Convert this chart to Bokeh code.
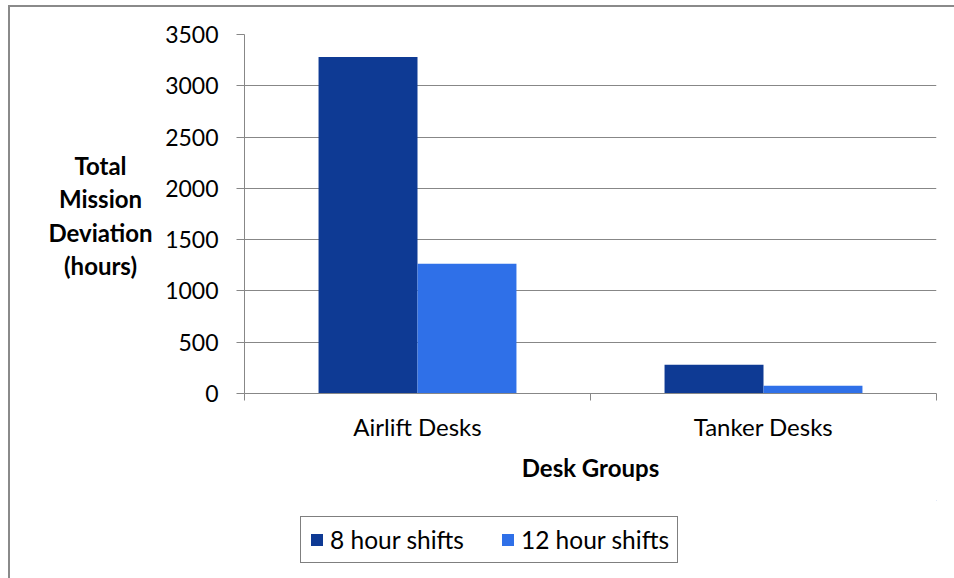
import numpy as np
from bokeh.plotting import figure
from bokeh.layouts import column
from bokeh.models import FixedTicker, Legend, LegendItem, Range1d, ColumnDataSource, Label
from bokeh.embed import file_html
from bokeh.resources import INLINE

categories = ["Airlift Desks", "Tanker Desks"]
series_names = ["8 hour shifts", "12 hour shifts"]
shift8 = [3280, 280]
shift12 = [1265, 75]
y_ticks = [0, 500, 1000, 1500, 2000, 2500, 3000, 3500]
y_title = "Total\nMission\nDeviation\n(hours)"
x_title = "Desk Groups"

colors = ["#0E3A94", "#2F70E8"]
FONT = "Lato"
GRID = "#878787"

p = figure(width=944, height=493, output_backend="svg", toolbar_location=None,
           x_range=Range1d(0, len(categories)), y_range=Range1d(0, 3500),
           min_border_left=234, min_border_right=18, min_border_top=27,
           min_border_bottom=107)
p.outline_line_color = None
p.background_fill_color = "white"
p.border_fill_color = "white"

centers = np.arange(len(categories)) + 0.5
bw = 0.286
src8 = ColumnDataSource(dict(x=centers - bw / 2, top=shift8))
src12 = ColumnDataSource(dict(x=centers + bw / 2, top=shift12))
p.vbar(x="x", top="top", bottom=0, width=bw, source=src8, fill_color=colors[0], line_color=None)
p.vbar(x="x", top="top", bottom=0, width=bw, source=src12, fill_color=colors[1], line_color=None)

# x axis
xa = p.xaxis[0]
xa.ticker = FixedTicker(ticks=list(centers), minor_ticks=list(range(len(categories) + 1)))
xa.major_label_overrides = {float(c): n for c, n in zip(centers, categories)}
xa.major_tick_out = 0
xa.major_tick_in = 0
xa.minor_tick_out = 7
xa.minor_tick_in = 0
xa.minor_tick_line_color = GRID
xa.axis_line_color = GRID
xa.major_label_standoff = 11
xa.major_label_text_font = FONT
xa.major_label_text_font_size = "24px"
xa.major_label_text_color = "black"
xa.axis_label = x_title
xa.axis_label_text_font = FONT
xa.axis_label_text_font_style = "bold"
xa.axis_label_text_font_size = "24px"
xa.axis_label_standoff = 9
xa.axis_label_text_color = "black"

# y axis
ya = p.yaxis[0]
ya.ticker = FixedTicker(ticks=y_ticks)
ya.major_tick_out = 8
ya.major_tick_in = 0
ya.minor_tick_out = 0
ya.minor_tick_in = 0
ya.major_tick_line_color = GRID
ya.axis_line_color = GRID
ya.major_label_standoff = 18
ya.major_label_text_font = FONT
ya.major_label_text_font_size = "23px"
ya.major_label_text_color = "black"

p.xgrid.visible = False
p.ygrid.ticker = FixedTicker(ticks=y_ticks)
p.ygrid.grid_line_color = GRID
p.ygrid.grid_line_width = 1

title = Label(x=42, y=1735, x_units="screen", y_units="data", text=y_title,
              text_align="center", text_baseline="middle",
              text_font=FONT, text_font_style="bold", text_font_size="24px",
              text_line_height=1.15, text_color="black")
p.add_layout(title, "left")

# legend strip
q = figure(width=944, height=78, output_backend="svg", toolbar_location=None,
           x_axis_location=None, y_axis_location=None,
           x_range=Range1d(0, 1), y_range=Range1d(-2, -1),
           min_border_left=0, min_border_right=0, min_border_top=0, min_border_bottom=0)
q.outline_line_color = None
q.grid.visible = False
q.border_fill_color = "white"
q.background_fill_color = "white"
lr8 = q.vbar(x="x", top="top", bottom=0, width=0, source=src8, fill_color=colors[0], line_color=None)
lr12 = q.vbar(x="x", top="top", bottom=0, width=0, source=src12, fill_color=colors[1], line_color=None)
legend = Legend(items=[LegendItem(label=series_names[0], renderers=[lr8]),
                       LegendItem(label=series_names[1], renderers=[lr12])],
                orientation="horizontal", location=(56, 15),
                label_text_font=FONT, label_text_font_size="24.5px", label_text_color="black",
                glyph_width=15, glyph_height=15, label_standoff=6, spacing=36,
                padding=8, margin=0, border_line_color="black", border_line_width=1.5)
q.add_layout(legend)

root = column(p, q, spacing=0)
root.styles = {"margin-left": "8px", "margin-top": "5px",
               "border-left": "2px solid #8a8a8a", "border-top": "2px solid #8a8a8a"}

open("out.html", "w").write(file_html(root, INLINE))
